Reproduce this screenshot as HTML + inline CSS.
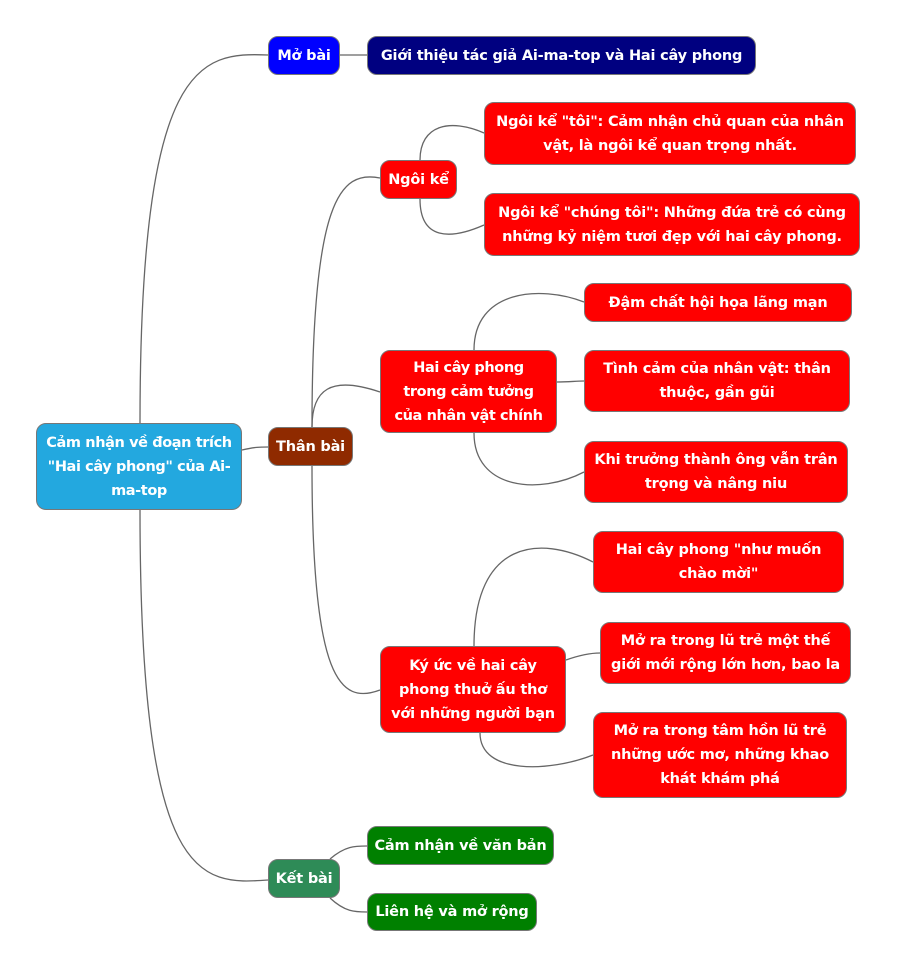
<!DOCTYPE html>
<html><head><meta charset="utf-8"><style>
body{margin:0;width:898px;height:970px;background:#fff;position:relative;overflow:hidden;font-family:"DejaVu Sans","Liberation Sans",sans-serif}
.n{position:absolute;box-sizing:border-box;border:1.5px solid #777;border-radius:10px;color:#fff;font-weight:bold;font-size:14.5px;line-height:24px;display:flex;align-items:center;justify-content:center;text-align:center;padding:0 8px;letter-spacing:-0.2px}
.r{background:#ff0000}
svg{position:absolute;left:0;top:0}
</style></head><body>
<svg width="898" height="970" fill="none" stroke="#666" stroke-width="1.3">
<path d="M140,423 C140,60 200,52 268,55"/>
<path d="M140,510 C140,885 200,885 268,880"/>
<path d="M242,450 C255,447 260,447 268,447"/>
<path d="M340,55 L367,55"/>
<path d="M312,427 C312,200 340,170 380,178"/>
<path d="M312,427 C312,390 330,375 380,392"/>
<path d="M312,466 C312,680 340,705 380,690"/>
<path d="M420,160 C420,125 450,118 484,133"/>
<path d="M420,199 C420,240 450,240 484,225"/>
<path d="M474,350 C474,290 540,285 584,302"/>
<path d="M557,382 C570,382 575,381 584,381"/>
<path d="M474,433 C474,490 540,495 584,472"/>
<path d="M474,646 C474,540 540,535 593,562"/>
<path d="M566,660 C580,655 590,653 600,653"/>
<path d="M480,733 C480,775 550,772 593,755"/>
<path d="M330,859 C345,846 355,846 367,846"/>
<path d="M330,898 C345,912 355,912 367,912"/>
</svg>
<div class="n" style="left:36px;top:423px;width:206px;height:87px;background:#23a8df;padding:0 2px;letter-spacing:-0.4px">Cảm nhận về đoạn trích "Hai cây phong" của Ai-ma-top</div>
<div class="n" style="left:268px;top:36px;width:72px;height:39px;background:#0000ff;padding:0">Mở bài</div>
<div class="n" style="left:367px;top:36px;width:389px;height:39px;background:#000080;padding:0">Giới thiệu tác giả Ai-ma-top và Hai cây phong</div>
<div class="n r" style="left:380px;top:160px;width:77px;height:39px;padding:0">Ngôi kể</div>
<div class="n r" style="left:484px;top:102px;width:372px;height:63px">Ngôi kể "tôi": Cảm nhận chủ quan của nhân vật, là ngôi kể quan trọng nhất.</div>
<div class="n r" style="left:484px;top:193px;width:376px;height:63px">Ngôi kể "chúng tôi": Những đứa trẻ có cùng những kỷ niệm tươi đẹp với hai cây phong.</div>
<div class="n" style="left:268px;top:427px;width:85px;height:39px;background:#8f2a00;padding:0">Thân bài</div>
<div class="n r" style="left:380px;top:350px;width:177px;height:83px;padding:0 2px;letter-spacing:-0.4px">Hai cây phong<br>trong cảm tưởng<br>của nhân vật chính</div>
<div class="n r" style="left:584px;top:283px;width:268px;height:39px">Đậm chất hội họa lãng mạn</div>
<div class="n r" style="left:584px;top:350px;width:266px;height:62px">Tình cảm của nhân vật: thân thuộc, gần gũi</div>
<div class="n r" style="left:584px;top:441px;width:264px;height:62px">Khi trưởng thành ông vẫn trân trọng và nâng niu</div>
<div class="n r" style="left:380px;top:646px;width:186px;height:87px">Ký ức về hai cây phong thuở ấu thơ với những người bạn</div>
<div class="n r" style="left:593px;top:531px;width:251px;height:62px;padding:0 18px">Hai cây phong "như muốn chào mời"</div>
<div class="n r" style="left:600px;top:622px;width:251px;height:62px">Mở ra trong lũ trẻ một thế giới mới rộng lớn hơn, bao la</div>
<div class="n r" style="left:593px;top:712px;width:254px;height:86px">Mở ra trong tâm hồn lũ trẻ những ước mơ, những khao khát khám phá</div>
<div class="n" style="left:268px;top:859px;width:72px;height:39px;background:#2e8b57;padding:0">Kết bài</div>
<div class="n" style="left:367px;top:826px;width:187px;height:39px;background:#008000;padding:0">Cảm nhận về văn bản</div>
<div class="n" style="left:367px;top:893px;width:170px;height:38px;background:#008000;padding:0">Liên hệ và mở rộng</div>
</body></html>
